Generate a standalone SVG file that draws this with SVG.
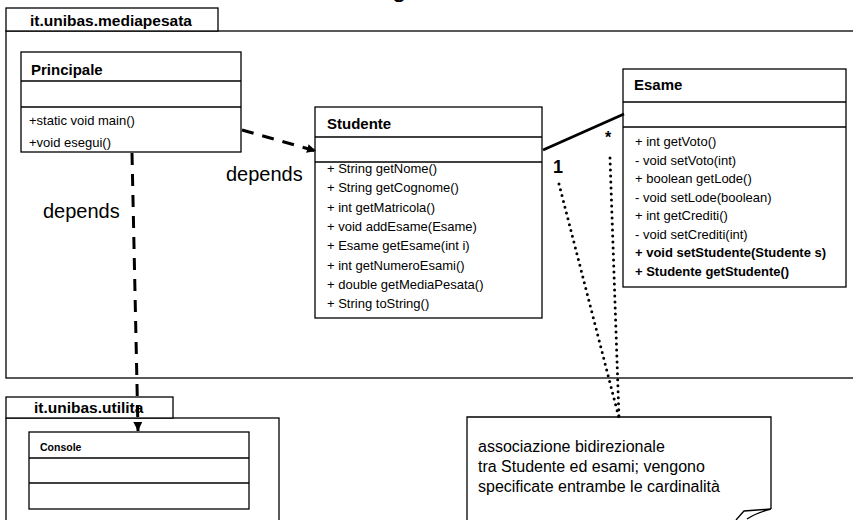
<svg xmlns="http://www.w3.org/2000/svg" width="853" height="520" viewBox="0 0 853 520">
  <style>
    .box { fill: #ffffff; stroke: #000000; stroke-width: 1.3; }
    .ln { stroke: #000000; stroke-width: 1.3; fill: none; }
    .t { font-family: "Liberation Sans", Arial, sans-serif; fill: #000000; }
    .pkg { font-size: 15.5px; font-weight: bold; }
    .hdr { font-size: 15px; font-weight: bold; }
    .m { font-size: 13px; }
    .mb { font-size: 13px; font-weight: bold; }
    .lbl { font-size: 20px; }
    .note { font-size: 16px; }
    .dep { stroke: #000000; stroke-width: 3; stroke-dasharray: 12 9; fill: none; }
    .dot { stroke: #000000; stroke-width: 3; stroke-dasharray: 0 6; stroke-linecap: round; fill: none; }
  </style>
  <defs>
    <marker id="arrow" viewBox="0 0 10 10" refX="10" refY="5" markerWidth="3" markerHeight="3" markerUnits="strokeWidth" orient="auto">
      <path d="M0,0 L10,5 L0,10 Z" fill="#000000"/>
    </marker>
  </defs>

  <rect width="853" height="520" fill="#ffffff"/>

  <!-- title, mostly outside the canvas -->
  <text class="t" x="392" y="-3" font-size="26">g</text>

  <!-- package it.unibas.mediapesata -->
  <g id="pkg-mediapesata">
    <rect class="box" x="6" y="31" width="870" height="347"/>
    <rect class="box" x="6" y="8" width="212" height="23"/>
    <text class="t pkg" x="30" y="26">it.unibas.mediapesata</text>
  </g>

  <!-- package it.unibas.utilita -->
  <g id="pkg-utilita">
    <rect class="box" x="6" y="418" width="273" height="120"/>
    <rect class="box" x="6" y="397" width="167" height="21"/>
    <text class="t pkg" x="34" y="413">it.unibas.utilita</text>
  </g>

  <!-- class Principale -->
  <g id="principale">
    <rect class="box" x="21" y="52" width="220" height="100"/>
    <line class="ln" x1="21" y1="81" x2="241" y2="81"/>
    <line class="ln" x1="21" y1="107" x2="241" y2="107"/>
    <text class="t hdr" x="31" y="75">Principale</text>
    <text class="t m" x="29" y="125">+static void main()</text>
    <text class="t m" x="29" y="147">+void esegui()</text>
  </g>

  <!-- class Studente -->
  <g id="studente">
    <rect class="box" x="315" y="107" width="227" height="211"/>
    <line class="ln" x1="315" y1="137" x2="542" y2="137"/>
    <line class="ln" x1="315" y1="162" x2="542" y2="162"/>
    <text class="t hdr" x="327" y="129">Studente</text>
    <text class="t m" x="327" y="173">+ String getNome()</text>
    <text class="t m" x="327" y="192.3">+ String getCognome()</text>
    <text class="t m" x="327" y="211.6">+ int getMatricola()</text>
    <text class="t m" x="327" y="230.9">+ void addEsame(Esame)</text>
    <text class="t m" x="327" y="250.2">+ Esame getEsame(int i)</text>
    <text class="t m" x="327" y="269.5">+ int getNumeroEsami()</text>
    <text class="t m" x="327" y="288.8">+ double getMediaPesata()</text>
    <text class="t m" x="327" y="308">+ String toString()</text>
  </g>

  <!-- class Esame -->
  <g id="esame">
    <rect class="box" x="623" y="69" width="223" height="218"/>
    <line class="ln" x1="623" y1="102" x2="846" y2="102"/>
    <line class="ln" x1="623" y1="127" x2="846" y2="127"/>
    <text class="t hdr" x="634" y="90">Esame</text>
    <text class="t m" x="635" y="146">+ int getVoto()</text>
    <text class="t m" x="635" y="164.6">- void setVoto(int)</text>
    <text class="t m" x="635" y="183.1">+ boolean getLode()</text>
    <text class="t m" x="635" y="201.7">- void setLode(boolean)</text>
    <text class="t m" x="635" y="220.3">+ int getCrediti()</text>
    <text class="t m" x="635" y="238.9">- void setCrediti(int)</text>
    <text class="t mb" x="635" y="257.4">+ void setStudente(Studente s)</text>
    <text class="t mb" x="635" y="276">+ Studente getStudente()</text>
  </g>

  <!-- class Console -->
  <g id="console">
    <rect class="box" x="29" y="432" width="220" height="77"/>
    <line class="ln" x1="29" y1="458" x2="249" y2="458"/>
    <line class="ln" x1="29" y1="483" x2="249" y2="483"/>
    <text class="t" x="40" y="451" font-size="10.5" font-weight="bold">Console</text>
  </g>

  <!-- note -->
  <g id="note">
    <path class="box" d="M467,540 L467,417 L771,417 L771,509"/>
    <path class="ln" d="M771,509 L744,511 L736,520 M771,509 Q756,513 747,519"/>
    <text class="t note" x="478" y="452">associazione bidirezionale</text>
    <text class="t note" x="478" y="472">tra Studente ed esami; vengono</text>
    <text class="t note" x="478" y="492">specificate entrambe le cardinalità</text>
  </g>

  <!-- connectors -->
  <g id="connectors">
    <path class="dep" d="M242,130 L316,151" marker-end="url(#arrow)"/>
    <path class="dep" d="M132,153 L138,431" marker-end="url(#arrow)"/>
    <line x1="543" y1="150" x2="624" y2="114" stroke="#000000" stroke-width="2.8"/>
    <path class="dot" d="M559,184 L619,418"/>
    <path class="dot" d="M610,158 L619,418"/>
    <text class="t lbl" x="226" y="181">depends</text>
    <text class="t lbl" x="43" y="218">depends</text>
    <text class="t" x="553" y="173" font-size="18" font-weight="bold">1</text>
    <text class="t" x="605" y="143" font-size="16" font-weight="bold">*</text>
  </g>
</svg>
